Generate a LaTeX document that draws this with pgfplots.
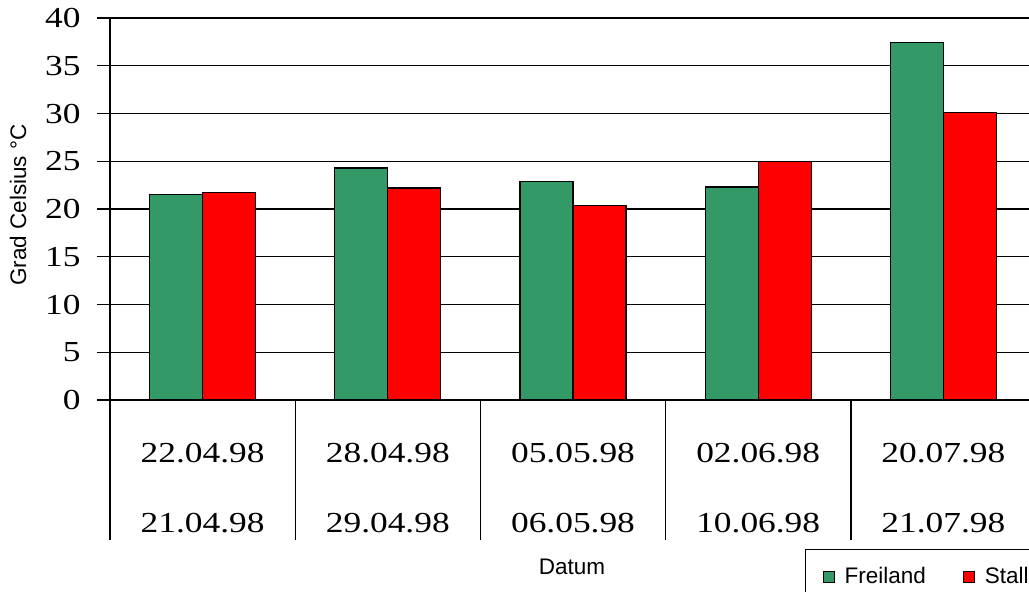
\documentclass[border=0pt]{standalone}
\usepackage{fontspec}
\setmainfont{Liberation Serif}[FakeStretch=1.22]
\newfontfamily\arial{Liberation Sans}
\usepackage{pgfplots}
\usepackage{pgfplotstable}
\pgfplotsset{compat=1.18}
\definecolor{fgreen}{RGB}{51,153,102}
\definecolor{sred}{RGB}{255,0,0}
\pgfplotstableread{
x fr st
0 21.5 21.7
1 24.3 22.2
2 22.9 20.4
3 22.3 25.0
4 37.4 30.1
}\data
\newcommand{\tnr}{\fontsize{29}{34}\selectfont}
\newcommand{\sfs}{\arial\fontsize{22.5}{26}\selectfont}
\begin{document}
\begin{tikzpicture}[x=1pt,y=1pt]
\useasboundingbox (0,0) rectangle (1029,592);
\begin{axis}[
 at={(110pt,192pt)}, anchor=south west,
 scale only axis, width=926pt, height=382pt,
 xmin=-0.5, xmax=4.5, ymin=0, ymax=40,
 ybar=0pt, bar width=53pt,
 axis x line*=bottom, axis y line*=left,
 axis line style={line width=1.4pt, -},
 ytick={0,5,...,40}, ymajorgrids, grid style={black, line width=1.3pt},
 ytick style={black, line width=1.3pt},
 major tick length=13pt, tick align=outside,
 xtick=\empty,
 yticklabel style={font=\tnr, xshift=-13pt, /pgf/number format/assume math mode=true},
 clip=false,
 legend columns=2,
 legend style={at={(0.7505,-0.390)}, anchor=north west, draw=black, line width=1.3pt,
   font=\sfs,
   /tikz/every odd column/.append style={column sep=8pt},
   /tikz/every even column/.append style={column sep=35pt},
   inner xsep=17pt, inner ysep=16pt},
 legend image code/.code={\draw[#1, line width=1pt] (0pt,-5.5pt) rectangle (11pt,5.5pt);},
]
\addplot[fill=fgreen, draw=black, line width=1.3pt] table[x=x,y=fr]{\data};
\addplot[fill=sred, draw=black, line width=1.3pt] table[x=x,y=st]{\data};
\legend{Freiland, Stall}
\pgfplotsinvokeforeach{-0.5,0.5,1.5,2.5,3.5}{\draw[line width=1.4pt] (axis cs:#1,0) -- ++(0pt,-140pt);}
\node[anchor=base, font=\tnr, yshift=-63pt] at (axis cs:0,0) {22.04.98};
\node[anchor=base, font=\tnr, yshift=-63pt] at (axis cs:1,0) {28.04.98};
\node[anchor=base, font=\tnr, yshift=-63pt] at (axis cs:2,0) {05.05.98};
\node[anchor=base, font=\tnr, yshift=-63pt] at (axis cs:3,0) {02.06.98};
\node[anchor=base, font=\tnr, yshift=-63pt] at (axis cs:4,0) {20.07.98};
\node[anchor=base, font=\tnr, yshift=-132pt] at (axis cs:0,0) {21.04.98};
\node[anchor=base, font=\tnr, yshift=-132pt] at (axis cs:1,0) {29.04.98};
\node[anchor=base, font=\tnr, yshift=-132pt] at (axis cs:2,0) {06.05.98};
\node[anchor=base, font=\tnr, yshift=-132pt] at (axis cs:3,0) {10.06.98};
\node[anchor=base, font=\tnr, yshift=-132pt] at (axis cs:4,0) {21.07.98};
\end{axis}
\node[rotate=90, font=\sfs] at (18,387) {Grad Celsius °C};
\node[anchor=base, font=\sfs] at (572,17) {Datum};
\end{tikzpicture}
\end{document}
